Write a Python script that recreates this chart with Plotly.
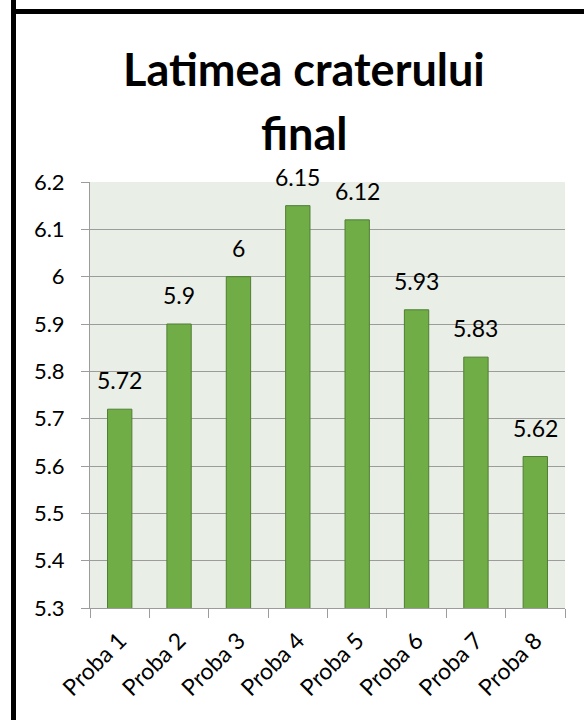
import plotly.graph_objects as go

# Measured widths of the final crater for each trial
categories = ["Proba 1", "Proba 2", "Proba 3", "Proba 4", "Proba 5", "Proba 6", "Proba 7", "Proba 8"]
values = [5.72, 5.9, 6, 6.15, 6.12, 5.93, 5.83, 5.62]
value_labels = ["5.72", "5.9", "6", "6.15", "6.12", "5.93", "5.83", "5.62"]
title_lines = ["Latimea craterului", "final"]

W, H = 584, 720
ML, MR, MT, MB = 90, 19, 182, 112
PW, PH = W - ML - MR, H - MT - MB


def px_x(px):
    return (px - ML) / PW


def px_y(py):
    return (H - MB - py) / PH


FONT = "Lato, 'Open Sans', sans-serif"
GRID = "#9c9c9c"

fig = go.Figure(
    go.Bar(
        x=categories,
        y=values,
        marker=dict(color="#70AD47", line=dict(color="#4F7E32", width=1)),
        width=0.41,
        hoverinfo="x+y",
    )
)

# value labels above each bar
for c, v, t in zip(categories, values, value_labels):
    fig.add_annotation(
        x=c, y=v, text=t, showarrow=False, xref="x", yref="y",
        yanchor="bottom", yshift=13,
        font=dict(family=FONT, size=23, color="#000000"),
    )

# two-line bold title
fig.add_annotation(
    x=px_x(304), y=px_y(86), xref="paper", yref="paper", text=title_lines[0],
    showarrow=False, xanchor="center", yanchor="bottom", yshift=-12,
    font=dict(family=FONT, size=45, color="#000000", weight="bold"),
)
fig.add_annotation(
    x=px_x(304), y=px_y(149), xref="paper", yref="paper", text=title_lines[1],
    showarrow=False, xanchor="center", yanchor="bottom", yshift=-13,
    font=dict(family=FONT, size=45, color="#000000", weight="bold"),
)

# chart frame (top and left edges)
fig.add_shape(type="line", xref="paper", yref="paper",
              x0=px_x(13.5), x1=px_x(13.5), y0=px_y(0), y1=px_y(720),
              line=dict(color="#000000", width=5))
fig.add_shape(type="line", xref="paper", yref="paper",
              x0=px_x(11), x1=px_x(584), y0=px_y(11.5), y1=px_y(11.5),
              line=dict(color="#000000", width=5))

fig.update_layout(
    width=W, height=H, autosize=False,
    margin=dict(l=ML, r=MR, t=MT, b=MB, pad=0),
    paper_bgcolor="#FFFFFF",
    plot_bgcolor="#E9EEE6",
    showlegend=False,
    font=dict(family=FONT, size=22, color="#000000"),
    bargap=0.59,
)
fig.update_xaxes(
    type="category",
    tickangle=-45,
    ticks="outside", ticklen=9, tickcolor=GRID, tickson="boundaries",
    showline=True, linecolor=GRID, linewidth=1,
    showgrid=False,
    ticklabelstandoff=9,
    tickfont=dict(family=FONT, size=23, color="#000000"),
)
fig.update_yaxes(
    range=[5.3, 6.2], dtick=0.1, tick0=5.3,
    ticks="outside", ticklen=8, tickcolor=GRID,
    showline=True, linecolor=GRID, linewidth=1,
    showgrid=True, gridcolor=GRID, gridwidth=1,
    zeroline=False,
    ticklabelstandoff=12,
    tickfont=dict(family=FONT, size=22, color="#000000"),
)

fig.write_html("out.html")
